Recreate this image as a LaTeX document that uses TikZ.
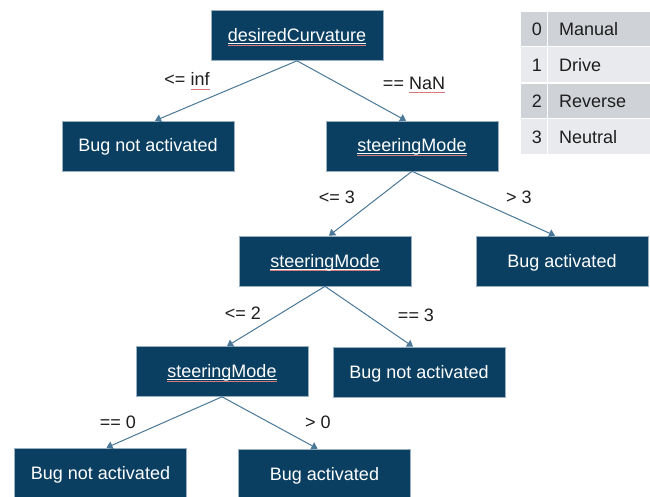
\documentclass[tikz,border=0pt]{standalone}
\usepackage{fontspec}
\setmainfont{Liberation Sans}
\usetikzlibrary{arrows.meta}

\definecolor{boxblue}{HTML}{0B3F62}
\definecolor{boxedge}{HTML}{9AAFC0}
\definecolor{linkblue}{HTML}{4A7898}
\definecolor{rowdark}{HTML}{CFD2D7}
\definecolor{rowlight}{HTML}{E9EAED}
\definecolor{spellred}{HTML}{D87A7A}
\definecolor{labelink}{HTML}{1E1E1E}

% word with a white underline and a thin red spelling mark below it
\newcommand{\featname}[1]{\setbox0\hbox{#1}%
  \rlap{\color{white}\rule[-2.2pt]{\wd0}{0.7pt}}%
  \rlap{\color{spellred}\rule[-3.8pt]{\wd0}{0.4pt}}\box0}
% word with only the red spelling mark
\newcommand{\spellmark}[1]{\setbox0\hbox{#1}%
  \rlap{\color{spellred}\rule[-3.2pt]{\wd0}{0.4pt}}\box0}

\tikzset{
  treebox/.style={rectangle, draw=boxedge, line width=0.6pt, fill=boxblue,
    text=white, minimum width=172pt, minimum height=50pt, inner sep=0pt,
    text height=12pt, text depth=0pt,
    font=\fontsize{18}{21}\selectfont},
  link/.style={draw=linkblue, line width=1pt,
    -{Triangle[width=8pt,length=6pt]}},
  cond/.style={text=labelink, inner sep=0pt, font=\fontsize{18}{21}\selectfont},
  cell/.style={text=labelink, inner sep=0pt, font=\fontsize{18}{21}\selectfont},
}

\begin{document}
\begin{tikzpicture}[x=1pt, y=-1pt]
  \clip (0,0) rectangle (650,497);
  \fill[white] (0,0) rectangle (650,497);

  % decision tree
  \node[treebox] (dc) at (297,35.5) {\featname{desiredCurvature}};
  \node[treebox] (na1) at (148,146) {Bug not activated};
  \node[treebox] (sm1) at (412,146) {\featname{steeringMode}};
  \node[treebox] (sm2) at (325,261) {\featname{steeringMode}};
  \node[treebox] (ba1) at (562,261) {Bug activated};
  \node[treebox] (sm3) at (222,371.5) {\featname{steeringMode}};
  \node[treebox] (na2) at (419,372) {Bug not activated};
  \node[treebox] (na3) at (100.5,473) {Bug not activated};
  \node[treebox] (ba2) at (324.5,474) {Bug activated};

  \draw[link] (dc.south) -- ([xshift=7pt]na1.north);
  \draw[link] (dc.south) -- ([xshift=-6pt]sm1.north);
  \draw[link] (sm1.south) -- ([xshift=4pt]sm2.north);
  \draw[link] (sm1.south) -- ([xshift=-7pt]ba1.north);
  \draw[link] (sm2.south) -- ([xshift=5pt]sm3.north);
  \draw[link] (sm2.south) -- ([xshift=-6pt]na2.north);
  \draw[link] (sm3.south) -- ([xshift=6pt]na3.north);
  \draw[link] (sm3.south) -- ([xshift=-7pt]ba2.north);

  % split conditions
  \node[cond] (c1) at (187,81) {<= \spellmark{inf}};
  \node[cond] (c2) at (414,85) {== \spellmark{NaN}};
  \node[cond] (c3) at (337,197) {<= 3};
  \node[cond] (c4) at (519,197) {> 3};
  \node[cond] (c5) at (243,313) {<= 2};
  \node[cond] (c6) at (416,315) {== 3};
  \node[cond] (c7) at (118,422) {== 0};
  \node[cond] (c8) at (318,422) {> 0};

  % steering mode legend
  \fill[rowdark]  (521,12)    rectangle (546.5,46);
  \fill[rowdark]  (548,12)    rectangle (650,46);
  \fill[rowlight] (521,47.5)  rectangle (546.5,82.5);
  \fill[rowlight] (548,47.5)  rectangle (650,82.5);
  \fill[rowdark]  (521,84)    rectangle (546.5,118);
  \fill[rowdark]  (548,84)    rectangle (650,118);
  \fill[rowlight] (521,119.5) rectangle (546.5,154);
  \fill[rowlight] (548,119.5) rectangle (650,154);

  \node[cell, anchor=east] (k0) at (542,29) {0};
  \node[cell, anchor=west] (v0) at (559,29) {Manual};
  \node[cell, anchor=east] (k1) at (542,65) {1};
  \node[cell, anchor=west] (v1) at (559,65) {Drive};
  \node[cell, anchor=east] (k2) at (542,101) {2};
  \node[cell, anchor=west] (v2) at (559,101) {Reverse};
  \node[cell, anchor=east] (k3) at (542,137) {3};
  \node[cell, anchor=west] (v3) at (559,137) {Neutral};
\end{tikzpicture}
\end{document}
